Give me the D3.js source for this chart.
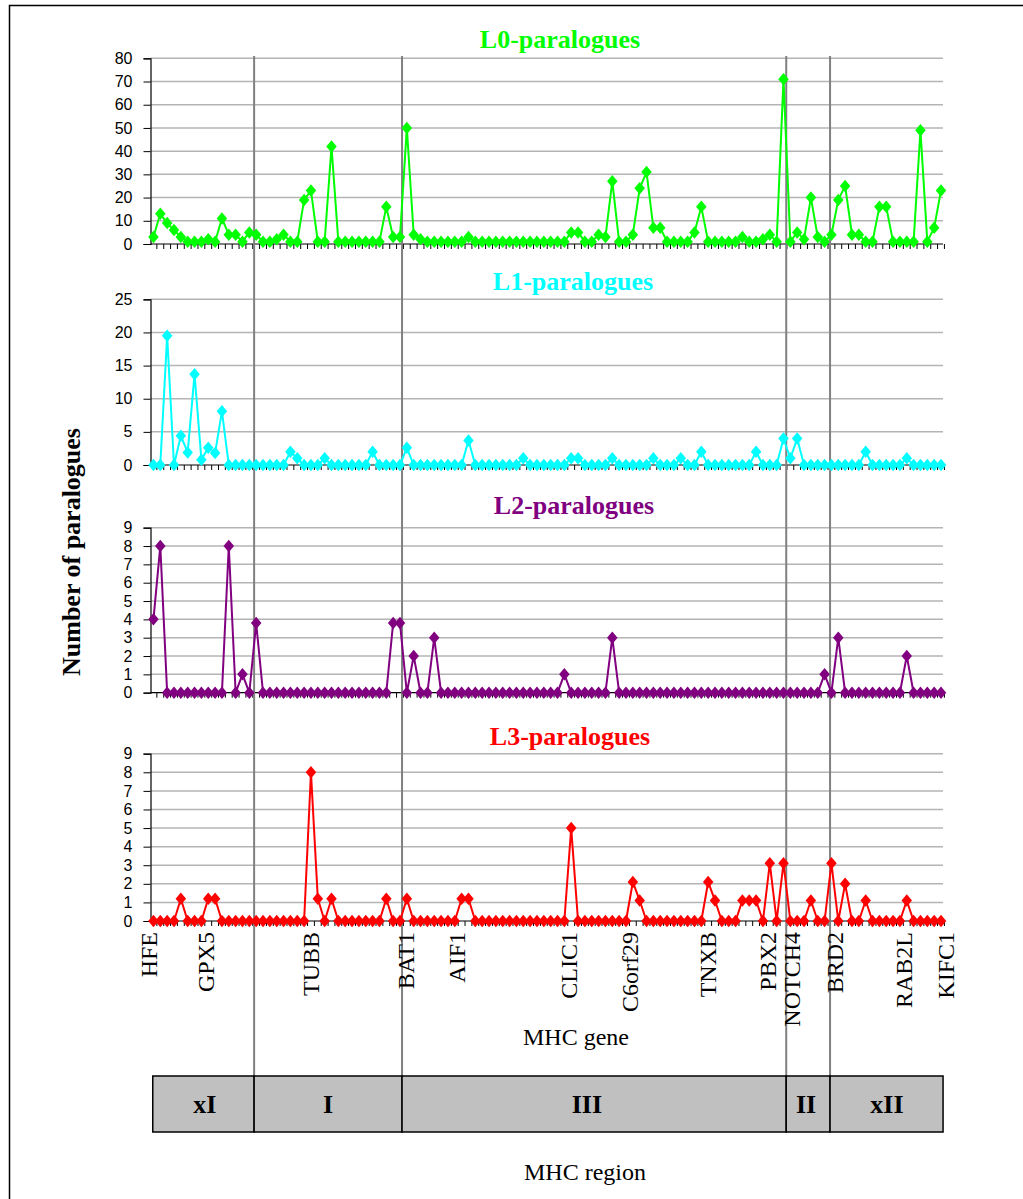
<!DOCTYPE html>
<html>
<head>
<meta charset="utf-8">
<script src="https://cdn.jsdelivr.net/npm/d3@7"></script>
<style>
  html, body { margin: 0; padding: 0; background: #fff; }
  svg { display: block; }
</style>
</head>
<body>
<svg id="chart" width="1023" height="1199"></svg>
<script>
// ---- data: paralogue counts per MHC gene position (116 genes, HFE → KIFC1) ----
const l0Values = [3,13,9,6,3,1,1,1,2,1,11,4,4,1,5,4,1,1,2,4,1,1,19,23,1,1,42,1,1,1,1,1,1,1,16,3,3,50,4,2,
  1,1,1,1,1,1,3,1,1,1,1,1,1,1,1,1,1,1,1,1,1,5,5,1,1,4,3,27,1,1,4,24,31,7,7,1,1,1,1,5,
  16,1,1,1,1,1,3,1,1,2,4,1,71,1,5,2,20,3,1,4,19,25,4,4,1,1,16,16,1,1,1,1,49,1,7,23];

const l1Values = [0,0,19.5,0,4.4,1.9,13.7,0.8,2.6,1.8,8.1,0,0,0,0,0,0,0,0,0,2,1,0,0,0,1,0,0,0,0,
  0,0,2,0,0,0,0,2.6,0,0,0,0,0,0,0,0,3.7,0,0,0,0,0,0,0,1,0,0,0,0,0,
  0,1,1,0,0,0,0,1,0,0,0,0,0,1,0,0,0,1,0,0,2,0,0,0,0,0,0,0,2,0,
  0,0,4,1,4,0,0,0,0,0,0,0,0,0,2,0,0,0,0,0,1,0,0,0,0,0];

const l2Values = [4,8,0,0,0,0,0,0,0,0,0,8,0,1,0,3.8,0,0,0,0,0,0,0,0,0,0,0,0,0,0,
  0,0,0,0,0,3.8,3.8,0,2,0,0,3,0,0,0,0,0,0,0,0,0,0,0,0,0,0,0,0,0,0,
  1,0,0,0,0,0,0,3,0,0,0,0,0,0,0,0,0,0,0,0,0,0,0,0,0,0,0,0,0,0,
  0,0,0,0,0,0,0,0,1,0,3,0,0,0,0,0,0,0,0,0,2,0,0,0,0,0];

const l3Values = [0,0,0,0,1.2,0,0,0,1.2,1.2,0,0,0,0,0,0,0,0,0,0,0,0,0,8,1.2,0,1.2,0,0,0,
  0,0,0,0,1.2,0,0,1.2,0,0,0,0,0,0,0,1.2,1.2,0,0,0,0,0,0,0,0,0,0,0,0,0,
  0,5,0,0,0,0,0,0,0,0,2.1,1.1,0,0,0,0,0,0,0,0,0,2.1,1.1,0,0,0,1.1,1.1,1.1,0,
  3.1,0,3.1,0,0,0,1.1,0,0,3.1,0,2,0,0,1.1,0,0,0,0,0,1.1,0,0,0,0,0];

// gene names shown on the category axis, with the position they sit at
const geneLabels = ["HFE","GPX5","TUBB","BAT1","AIF1","CLIC1","C6orf29","TNXB","PBX2","NOTCH4","BRD2","RAB2L","KIFC1"];
const geneIndex  = [-0.7, 7.6, 23, 36.8, 44.3, 60.6, 69.5, 80.9, 89.7, 93.2, 99.5, 109.6, 115.6];

// MHC regions, given as gene-index boundaries and label positions
const regionNames   = ["xI","I","III","II","xII"];
const regionStarts  = [-0.1, 14.7, 36.3, 92.4, 98.8];
const regionEnds    = [14.7, 36.3, 92.4, 98.8, 115.3];
const regionLabelAt = [7.5, 25.5, 63.3, 95.3, 107.1];

const seriesNames = ["L0-paralogues","L1-paralogues","L2-paralogues","L3-paralogues"];
const yTicks0 = [0,10,20,30,40,50,60,70,80];
const yTicks1 = [0,5,10,15,20,25];
const yTicks2 = [0,1,2,3,4,5,6,7,8,9];
const yTicks3 = [0,1,2,3,4,5,6,7,8,9];

// ---- layout ----
const svg = d3.select("#chart");
const N = l0Values.length;
const x = d3.scaleLinear().domain([0, N - 1]).range([153.45, 941]);

const panels = [
  { values: l0Values, ticks: yTicks0, max: 80, y0: 244,   y1: 58.3,  color: "#00ff00", titleX: 560, titleY: 48 },
  { values: l1Values, ticks: yTicks1, max: 25, y0: 465,   y1: 299.3, color: "#00ffff", titleX: 573, titleY: 290 },
  { values: l2Values, ticks: yTicks2, max: 9,  y0: 692.7, y1: 527.7, color: "#800080", titleX: 574, titleY: 514 },
  { values: l3Values, ticks: yTicks3, max: 9,  y0: 921,   y1: 753.7, color: "#ff0000", titleX: 570, titleY: 745 }
];

// outer frame (continues past the right and bottom edges)
svg.append("rect").attr("x", 9.5).attr("y", 5.5).attr("width", 1030).attr("height", 1220)
  .attr("fill", "none").attr("stroke", "#000").attr("stroke-width", 1.5);

const axisLeftX = 150.5;
const gridRight = 943;

// gridlines and axes for each panel
panels.forEach((p, k) => {
  const y = d3.scaleLinear().domain([0, p.max]).range([p.y0, p.y1]);
  p.y = y;
  const g = svg.append("g").attr("class", "panel-" + k);

  g.selectAll("line.grid").data(p.ticks.filter(t => t > 0)).join("line")
    .attr("class", "grid")
    .attr("x1", axisLeftX).attr("x2", gridRight)
    .attr("y1", d => y(d)).attr("y2", d => y(d))
    .attr("stroke", "#b4b4b4").attr("stroke-width", 1.5);

  const yAxis = d3.axisLeft(y).tickValues(p.ticks).tickSize(7).tickPadding(11).tickFormat(d3.format("d"));
  const ga = g.append("g").attr("transform", `translate(${axisLeftX},0)`).call(yAxis);
  ga.select(".domain").attr("stroke", "#000").attr("stroke-width", 1.2);
  ga.selectAll(".tick line").attr("stroke", "#000");
  ga.selectAll(".tick text").attr("font-family", "Liberation Sans, Arial, sans-serif")
    .attr("font-size", 16).attr("fill", "#000");

  // category axis with small ticks between categories
  g.append("line").attr("x1", axisLeftX).attr("x2", gridRight)
    .attr("y1", p.y0).attr("y2", p.y0).attr("stroke", "#000").attr("stroke-width", 1.2);
  g.selectAll("line.ctick").data(d3.range(N)).join("line")
    .attr("class", "ctick")
    .attr("x1", d => x(d + 0.5)).attr("x2", d => x(d + 0.5))
    .attr("y1", p.y0).attr("y2", p.y0 + 5)
    .attr("stroke", "#000").attr("stroke-width", 1);
});

// region boundary lines running through all panels
const boundaries = regionStarts.slice(1);
svg.selectAll("line.boundary").data(boundaries).join("line")
  .attr("class", "boundary")
  .attr("x1", d => x(d)).attr("x2", d => x(d))
  .attr("y1", 56).attr("y2", 1076)
  .attr("stroke", "#808080").attr("stroke-width", 2);

// series lines and diamond markers
const diamond = (w, h) => `M0,${-h / 2}L${w / 2},0L0,${h / 2}L${-w / 2},0Z`;
panels.forEach((p, k) => {
  const g = svg.append("g").attr("class", "series-" + k);
  const line = d3.line().x((d, i) => x(i)).y(d => p.y(d));
  g.append("path").datum(p.values).attr("d", line)
    .attr("fill", "none").attr("stroke", p.color).attr("stroke-width", 2).attr("stroke-linejoin", "round");
  g.selectAll("path.marker").data(p.values).join("path")
    .attr("class", "marker")
    .attr("transform", (d, i) => `translate(${x(i)},${p.y(d)})`)
    .attr("d", diamond(10.5, 12.5))
    .attr("fill", p.color);
  svg.append("text").attr("x", p.titleX).attr("y", p.titleY)
    .attr("text-anchor", "middle")
    .attr("font-family", "Liberation Serif, Times New Roman, serif")
    .attr("font-weight", "bold").attr("font-size", 26)
    .attr("fill", p.color).text(seriesNames[k]);
});

// gene labels
svg.selectAll("text.gene").data(geneLabels).join("text")
  .attr("class", "gene")
  .attr("transform", (d, i) => `translate(${x(geneIndex[i])},932) rotate(-90)`)
  .attr("dy", "0.35em")
  .attr("text-anchor", "end")
  .attr("font-family", "Liberation Serif, Times New Roman, serif")
  .attr("font-size", 24).attr("fill", "#000")
  .text(d => d);

svg.append("text").attr("x", 576).attr("y", 1045).attr("text-anchor", "middle")
  .attr("font-family", "Liberation Serif, Times New Roman, serif").attr("font-size", 24)
  .text("MHC gene");

// y-axis title
svg.append("text").attr("transform", "translate(80,552) rotate(-90)")
  .attr("text-anchor", "middle")
  .attr("font-family", "Liberation Serif, Times New Roman, serif")
  .attr("font-weight", "bold").attr("font-size", 26)
  .text("Number of paralogues");

// region bar
const rg = svg.append("g").attr("class", "regions");
regionNames.forEach((name, i) => {
  const xa = x(regionStarts[i]), xb = x(regionEnds[i]);
  rg.append("rect").attr("x", xa).attr("y", 1076).attr("width", xb - xa).attr("height", 56)
    .attr("fill", "#c0c0c0").attr("stroke", "#000").attr("stroke-width", 1.5);
  rg.append("text").attr("x", x(regionLabelAt[i])).attr("y", 1113)
    .attr("text-anchor", "middle")
    .attr("font-family", "Liberation Serif, Times New Roman, serif")
    .attr("font-weight", "bold").attr("font-size", 26)
    .text(name);
});

svg.append("text").attr("x", 585).attr("y", 1180).attr("text-anchor", "middle")
  .attr("font-family", "Liberation Serif, Times New Roman, serif").attr("font-size", 24)
  .text("MHC region");
</script>
</body>
</html>
